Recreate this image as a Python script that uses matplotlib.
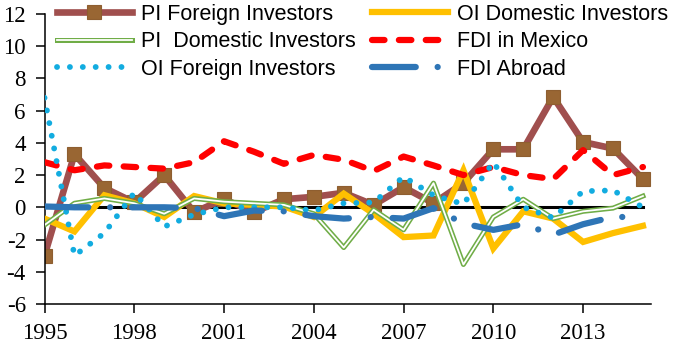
import numpy as np
import matplotlib
matplotlib.use('Agg')
import matplotlib.pyplot as plt
import matplotlib.patheffects as pe

plt.rcParams['axes.unicode_minus'] = False

years = list(range(1995, 2016))

pi_foreign = [-3.0, 3.3, 1.2, 0.3, 2.0, -0.3, 0.5, -0.3, 0.5, 0.65, 0.9,
              0.15, 1.25, 0.25, 1.5, 3.6, 3.6, 6.85, 4.05, 3.65, 1.75]
oi_domestic = [-0.7, -1.5, 0.75, 0.25, -0.6, 0.7, 0.25, 0.15, 0.05, -0.6, 0.85,
               -0.4, -1.85, -1.75, 2.3, -2.55, -0.25, -0.7, -2.15, -1.6, -1.15]
pi_domestic = [-1.1, 0.25, 0.55, 0.25, -0.4, 0.55, 0.35, 0.25, 0.15, -0.4, -2.5,
               -0.15, -1.4, 1.5, -3.55, -0.6, 0.5, -0.7, -0.25, -0.05, 0.7]
fdi_mexico = [2.8, 2.3, 2.6, 2.5, 2.4, 2.8, 4.1, 3.45, 2.7, 3.25, 2.95,
              2.25, 3.15, 2.6, 2.0, 2.5, 2.0, 1.75, 3.55, 2.0, 2.5]
oi_foreign = [6.8, -3.0, -1.6, 0.9, -1.2, -0.45, 0.0, 0.0, 0.0, -0.2, 0.25,
              0.3, 1.9, 0.75, 0.2, 2.8, 0.0, -0.65, 1.0, 1.05, 0.0]
fdi_abroad = [0.05, 0.0, 0.0, 0.0, 0.0, -0.05, -0.55, -0.2, -0.25, -0.55, -0.7,
              -0.6, -0.7, -0.05, -1.0, -1.4, -1.05, -1.7, -1.05, -0.6, -0.6]

xticks = [1995, 1998, 2001, 2004, 2007, 2010, 2013]

fig = plt.figure(figsize=(6.85, 3.49), dpi=100)
ax = fig.add_axes([0.065, 0.129, 0.8854, 0.831])

ax.plot([years[0], years[-1]], [0, 0], color='black', lw=2.2, zorder=1.5)

ax.plot(years, pi_foreign, color='#A04F4E', lw=4.8, marker='s', ms=9.5,
        mfc='#996633', mec='#8E5E30', mew=0.8, label='PI Foreign Investors', zorder=2)
ax.plot(years, oi_domestic, color='#FFC000', lw=4.5, solid_joinstyle='miter',
        label='OI Domestic Investors', zorder=3)
ax.plot(years, pi_domestic, color='white', lw=1.3, label='PI  Domestic Investors', zorder=4,
        path_effects=[pe.Stroke(linewidth=3.6, foreground='#70AD47'), pe.Normal()])
ax.plot(years, fdi_mexico, color='#FF0000', lw=4.5, ls=(0, (2.0, 2.3)),
        dash_capstyle='round', label='FDI in Mexico', zorder=5)
ax.plot(years, oi_foreign, color='#12ACE0', lw=4.2, ls=(0, (0.01, 2.2)),
        dash_capstyle='round', label='OI Foreign Investors', zorder=6)
ax.plot(years, fdi_abroad, color='#2E75B6', lw=4.5, ls=(0, (7, 3.5, 0.01, 3.5)),
        dash_capstyle='round', label='FDI Abroad', zorder=7)

ax.set_xlim(1995, 2015.27)
ax.set_ylim(-6, 12)
ax.set_yticks(np.arange(-6, 13, 2))
ax.set_xticks(xticks)
for side in ['top', 'right']:
    ax.spines[side].set_visible(False)
for side in ['left', 'bottom']:
    ax.spines[side].set_linewidth(1.1)
ax.tick_params(direction='out', length=6.5, width=1.1, pad=7,
               labelsize=16.5, labelfontfamily='Liberation Serif')

h, l = ax.get_legend_handles_labels()
order = [0, 2, 4, 1, 3, 5]
fig.legend([h[i] for i in order], [l[i] for i in order], loc='upper left',
           bbox_to_anchor=(0.067, 1.02), ncol=2, frameon=False, borderpad=0,
           handlelength=3.5, handletextpad=0.43, columnspacing=0.75,
           labelspacing=0.3, prop={'family': 'Liberation Sans', 'size': 15.5})

fig.savefig('out.png', dpi=100)
